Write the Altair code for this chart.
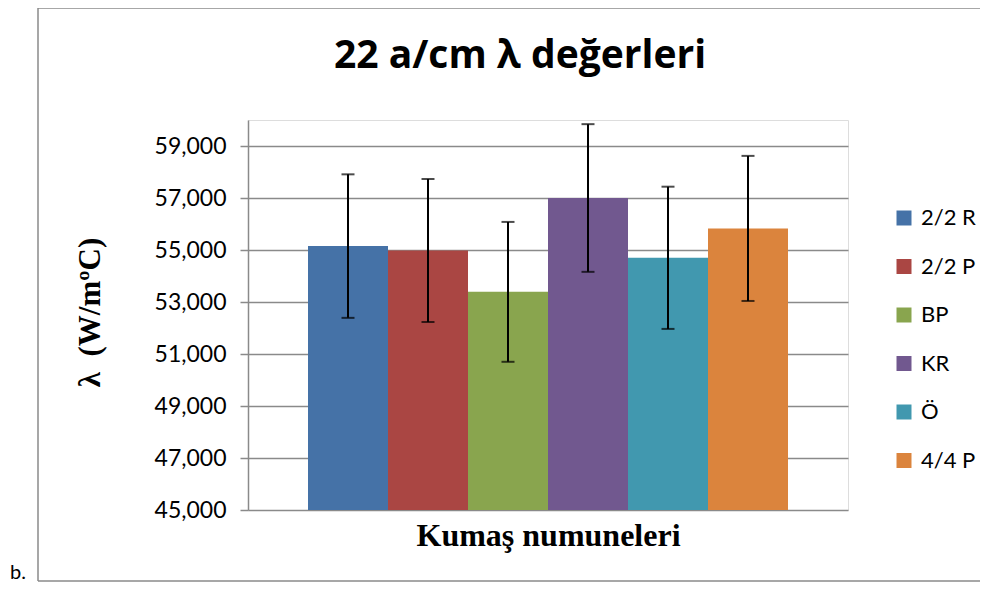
import altair as alt
import pandas as pd

# Data
samples = ["2/2 R", "2/2 P", "BP", "KR", "Ö", "4/4 P"]
values = [55150, 54980, 53390, 57000, 54700, 55830]
errors = [2760, 2750, 2690, 2840, 2735, 2790]
colors = ["#4572A7", "#AA4643", "#89A54E", "#71588F", "#4198AF", "#DB843D"]
y_ticks = [45000, 47000, 49000, 51000, 53000, 55000, 57000, 59000]
chart_title = "22 a/cm λ değerleri"
panel_label = "b."

df = pd.DataFrame({"sample": samples, "value": values, "err": errors})
df["lo"] = df["value"] - df["err"]
df["hi"] = df["value"] + df["err"]
df["base"] = 45000

FS = "Lato"
SERIF = "Liberation Serif"
GRID = "#8a8a8a"

x_enc = alt.X(
    "sample:N",
    sort=samples,
    scale=alt.Scale(paddingInner=0, paddingOuter=0.75),
    axis=alt.Axis(
        title="Kumaş numuneleri",
        labels=False, ticks=False, domain=False, grid=False,
        titleFont=SERIF, titleFontSize=32, titleFontWeight="bold", titleColor="black",
        titleX=300, titleY=35, titleBaseline="alphabetic", titleAnchor="middle",
    ),
)

y_scale = alt.Scale(domain=[45000, 60000], nice=False, zero=False)

bars = alt.Chart(df).mark_bar().encode(
    x=x_enc,
    y=alt.Y(
        "value:Q",
        scale=y_scale,
        axis=alt.Axis(
            title="λ\u00a0\u00a0(W/mºC)",
            values=y_ticks, format=",d",
            labelFont=FS, labelFontSize=23, labelColor="black", labelPadding=14,
            tickSize=8, tickColor=GRID, tickWidth=1.5,
            domainColor=GRID, domainWidth=1.5,
            grid=True, gridColor=GRID, gridWidth=1.5,
            titleFont=SERIF, titleFontSize=31, titleFontWeight="bold", titleColor="black",
            titleAngle=270, titleX=-158, titleY=192, titleBaseline="middle", titleAnchor="middle",
        ),
    ),
    y2=alt.Y2("base:Q"),
    color=alt.Color(
        "sample:N",
        sort=samples,
        scale=alt.Scale(domain=samples, range=colors),
        legend=alt.Legend(
            title=None, orient="none", legendX=645, legendY=87,
            symbolType="square", symbolSize=225, symbolStrokeWidth=0,
            labelFont=FS, labelFontSize=22, labelColor="black", labelOffset=6,
            rowPadding=26.5, padding=0,
        ),
    ),
)

stems = alt.Chart(df).mark_rule(color="black", strokeWidth=2).encode(
    x=alt.X("sample:N", sort=samples, bandPosition=0.5),
    y=alt.Y("lo:Q", scale=y_scale),
    y2="hi:Q",
)
caps_lo = alt.Chart(df).mark_tick(color="black", thickness=2, size=13).encode(
    x=alt.X("sample:N", sort=samples),
    y=alt.Y("lo:Q", scale=y_scale),
)
caps_hi = alt.Chart(df).mark_tick(color="black", thickness=2, size=13).encode(
    x=alt.X("sample:N", sort=samples),
    y=alt.Y("hi:Q", scale=y_scale),
)

one = pd.DataFrame({"k": [0]})
border_style = dict(color="#8a8a8a", strokeWidth=1.5, clip=False)
border_top = alt.Chart(one).mark_rule(**border_style).encode(
    x=alt.value(-210), x2=alt.value(740), y=alt.value(-112)
)
border_left = alt.Chart(one).mark_rule(**border_style).encode(
    x=alt.value(-210), y=alt.value(-112), y2=alt.value(461)
)
border_bottom = alt.Chart(one).mark_rule(**border_style).encode(
    x=alt.value(-210), x2=alt.value(740), y=alt.value(461)
)

title_txt = alt.Chart(pd.DataFrame({"t": [chart_title]})).mark_text(
    font="Open Sans", fontSize=39, fontWeight="bold", color="black", align="center", baseline="alphabetic"
).encode(text="t:N", x=alt.value(272), y=alt.value(-52))

label_b = alt.Chart(pd.DataFrame({"t": [panel_label]})).mark_text(
    font=FS, fontSize=20, color="black", align="left", baseline="alphabetic"
).encode(text="t:N", x=alt.value(-238), y=alt.value(459))

chart = alt.layer(
    border_top, border_left, border_bottom, bars, stems, caps_lo, caps_hi, title_txt, label_b
).properties(
    width=600,
    height=390,
    autosize=alt.AutoSizeParams(type="none"),
    padding={"left": 240, "top": 112, "right": 132, "bottom": 72},
).configure_view(stroke=None).configure(background="white")

chart.save("out.html", embed_options={"renderer": "svg", "actions": False})
